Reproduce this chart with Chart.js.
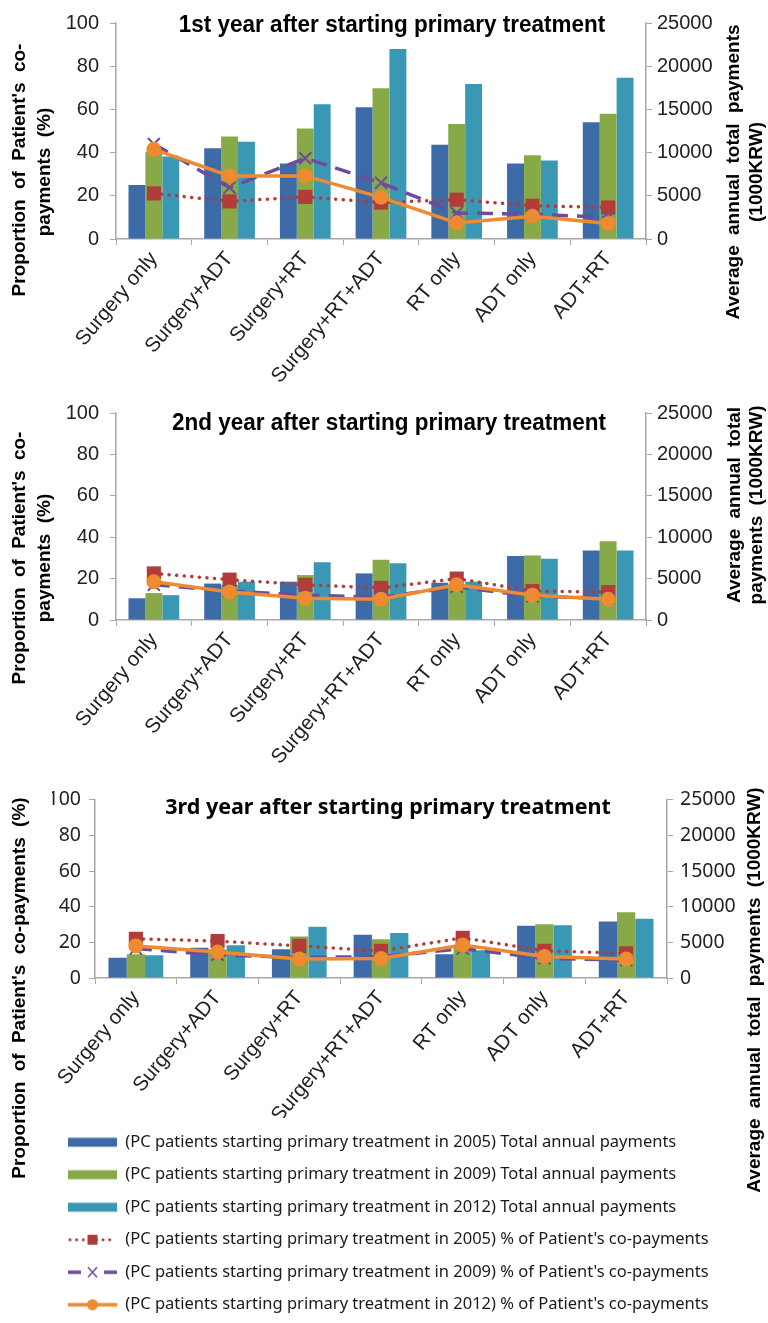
<!DOCTYPE html>
<html><head><meta charset="utf-8">
<script src="https://cdn.jsdelivr.net/npm/chart.js@4.4.1/dist/chart.umd.min.js"></script>
<style>
html,body{margin:0;padding:0;background:#fff;}
#wrap{position:relative;width:768px;height:1323px;overflow:hidden;background:#fff;}
.box{position:absolute;left:0;width:768px;}
</style></head><body>
<div id="wrap">
  <div class="box" style="top:0;height:390px"><canvas id="c1"></canvas></div>
  <div class="box" style="top:390px;height:390px"><canvas id="c2"></canvas></div>
  <div class="box" style="top:780px;height:543px"><canvas id="c3"></canvas></div>
</div>
<script>
// ---------- DATA ----------
const categories = ['Surgery only','Surgery+ADT','Surgery+RT','Surgery+RT+ADT','RT only','ADT only','ADT+RT'];
const seriesLabels = [
  '(PC patients starting primary treatment in 2005) Total annual payments',
  '(PC patients starting primary treatment in 2009) Total annual payments',
  '(PC patients starting primary treatment in 2012) Total annual payments',
  "(PC patients starting primary treatment in 2005) % of Patient's co-payments",
  "(PC patients starting primary treatment in 2009) % of Patient's co-payments",
  "(PC patients starting primary treatment in 2012) % of Patient's co-payments"
];
const panelTitles = ['1st year after starting primary treatment','2nd year after starting primary treatment','3rd year after starting primary treatment'];
const leftTitles = [["Proportion of Patient's co-","payments (%)"],["Proportion of Patient's co-","payments (%)"],["Proportion of Patient's co-payments (%)"]];
const rightTitles = [["Average annual total payments","(1000KRW)"],["Average annual total","payments (1000KRW)"],["Average annual total payments (1000KRW)"]];
const leftTicks = [0,20,40,60,80,100];
const rightTicks = [0,5000,10000,15000,20000,25000];

// Year 1
const pay2005_y1 = [6250, 10500, 8750, 15250, 10900, 8750, 13500];
const pay2009_y1 = [10100, 11850, 12800, 17450, 13300, 9700, 14500];
const pay2012_y1 = [9550, 11250, 15600, 22000, 17950, 9100, 18650];
const co2005_y1 = [21.1, 17.4, 19.5, 16.9, 18.2, 15.4, 14.6];
const co2009_y1 = [44, 23.8, 37.4, 26, 12, 11.5, 10];
const co2012_y1 = [41.5, 29.2, 29.2, 19.3, 7.4, 10.5, 7.2];
// Year 2
const pay2005_y2 = [2625, 4400, 4625, 5625, 4500, 7725, 8400];
const pay2009_y2 = [3250, 4250, 5425, 7275, 4250, 7800, 9500];
const pay2012_y2 = [3000, 4625, 6975, 6850, 4625, 7400, 8400];
const co2005_y2 = [22.5, 19.5, 17, 15.5, 20, 14, 13.5];
const co2009_y2 = [17, 14, 12, 11, 16, 11.5, 10.5];
const co2012_y2 = [18.5, 13.5, 10.5, 10, 17, 12, 10];
// Year 3
const pay2005_y3 = [2825, 4250, 4025, 6075, 3325, 7325, 7925];
const pay2009_y3 = [3325, 4000, 5825, 5425, 4250, 7550, 9225];
const pay2012_y3 = [3200, 4575, 7175, 6300, 3900, 7400, 8325];
const co2005_y3 = [22, 20.7, 18, 15.2, 22.5, 15.2, 13.9];
const co2009_y3 = [16.5, 13, 11.5, 12, 16.5, 11, 10];
const co2012_y3 = [18, 14.6, 10.6, 10.9, 18.5, 12, 10.6];

// ---------- STYLE ----------
const C_BLUE='#3D6BA7', C_GREEN='#88A947', C_TEAL='#3A98B4', C_RED='#B13C39', C_PURPLE='#6C4D9C', C_ORANGE='#EE8A30';
const ARIAL='"Liberation Sans", Arial, sans-serif';
const MALGUN='"Noto Sans", "Open Sans", sans-serif';
const AXIS_GRAY='#A8A8A8';

function makeSwatch(kind, color){
  const c=document.createElement('canvas'); c.width=49; c.height=16;
  const g=c.getContext('2d');
  if(kind==='bar'){ g.fillStyle=color; g.fillRect(0,3.5,49,9); }
  else if(kind==='dot'){
    g.strokeStyle=color; g.lineWidth=3; g.lineCap='round'; g.setLineDash([0.1,6.5]);
    g.beginPath(); g.moveTo(2,8); g.lineTo(48,8); g.stroke();
    g.setLineDash([]); g.fillStyle=color; g.fillRect(19.5,3,10,10);
  } else if(kind==='dash'){
    g.strokeStyle=color; g.lineWidth=3.5;
    g.beginPath(); g.moveTo(0,8); g.lineTo(13,8); g.moveTo(36,8); g.lineTo(49,8); g.stroke();
    g.lineWidth=1.6; g.beginPath(); g.moveTo(20,3); g.lineTo(29,13); g.moveTo(29,3); g.lineTo(20,13); g.stroke();
  } else {
    g.strokeStyle=color; g.lineWidth=3.5;
    g.beginPath(); g.moveTo(0,8); g.lineTo(49,8); g.stroke();
    g.fillStyle=color; g.beginPath(); g.arc(24.5,8,5.5,0,Math.PI*2); g.fill();
  }
  return c;
}

const deco = {
  id:'deco',
  afterDraw(chart, args, opts){
    const ctx=chart.ctx;
    (opts.texts||[]).forEach(t=>{
      ctx.save();
      ctx.font=t.font; ctx.fillStyle=t.color||'#000';
      ctx.textAlign='center'; ctx.textBaseline='middle';
      if('letterSpacing' in ctx) ctx.letterSpacing=t.ls||'0px';
      if('wordSpacing' in ctx) ctx.wordSpacing=t.ws||'0px';
      ctx.translate(t.x,t.y); ctx.rotate((t.rot||0)*Math.PI/180);
      ctx.scale(t.sx||1, t.sy||1);
      ctx.fillText(t.text,0,0);
      ctx.restore();
    });
  }
};

function buildDatasets(b1,b2,b3,l1,l2,l3){
  const bar=(label,data,color)=>({type:'bar',label,data,backgroundColor:color,borderWidth:0,yAxisID:'y2',order:4,categoryPercentage:0.67,barPercentage:1});
  return [
    bar(seriesLabels[0],b1,C_BLUE), bar(seriesLabels[1],b2,C_GREEN), bar(seriesLabels[2],b3,C_TEAL),
    {type:'line',label:seriesLabels[3],data:l1,yAxisID:'y',order:3,borderColor:C_RED,borderWidth:3.5,borderDash:[0.1,7.5],borderCapStyle:'round',
      pointStyle:'rect',pointRadius:10,pointBackgroundColor:C_RED,pointBorderColor:C_RED,pointBorderWidth:0,tension:0},
    {type:'line',label:seriesLabels[4],data:l2,yAxisID:'y',order:2,borderColor:C_PURPLE,borderWidth:3.5,borderDash:[16,9],
      pointStyle:'crossRot',pointRadius:8.5,pointBorderColor:C_PURPLE,pointBorderWidth:2,tension:0},
    {type:'line',label:seriesLabels[5],data:l3,yAxisID:'y',order:1,borderColor:C_ORANGE,borderWidth:3.5,
      pointStyle:'circle',pointRadius:7.5,pointBackgroundColor:C_ORANGE,pointBorderColor:C_ORANGE,pointBorderWidth:0,tension:0}
  ];
}

function makeChart(id, cfg){
  const tickFont = {family:cfg.tickFamily,size:cfg.tickSize};
  const swatches=[makeSwatch('bar',C_BLUE),makeSwatch('bar',C_GREEN),makeSwatch('bar',C_TEAL),makeSwatch('dot',C_RED),makeSwatch('dash',C_PURPLE),makeSwatch('solid',C_ORANGE)];
  return new Chart(document.getElementById(id),{
    type:'bar',
    data:{labels:categories,datasets:cfg.datasets},
    plugins:[deco],
    options:{
      responsive:true, maintainAspectRatio:false, animation:false, devicePixelRatio:1,
      layout:{padding:{top:cfg.padTop,left:cfg.padLeft||0,right:0,bottom:0}},
      plugins:{
        tooltip:{enabled:false},
        title:{display:false},
        legend: cfg.legend ? {
          display:true, position:'bottom', align:'start',
          labels:{usePointStyle:true, pointStyleWidth:49, padding:16, color:'#1a1a1a',
            font:{family:MALGUN,size:16.5},
            generateLabels: ch => ch.data.datasets.map((ds,i)=>({text:ds.label,pointStyle:swatches[i],fillStyle:'rgba(0,0,0,0)',strokeStyle:'rgba(0,0,0,0)',lineWidth:0,hidden:false,datasetIndex:i,fontColor:'#1a1a1a'}))
          }
        } : {display:false},
        deco:{texts:cfg.texts}
      },
      scales:{
        x:{
          grid:{drawOnChartArea:false,tickLength:6,color:AXIS_GRAY,offset:true},
          border:{color:AXIS_GRAY,width:1.5},
          ticks:{autoSkip:false,minRotation:50,maxRotation:50,padding:2,color:'#222',font:{family:ARIAL,size:20.5}},
          afterFit:s=>{ const L=(s.chart.legend&&cfg.legend)?s.chart.legend.height:0; s.height=cfg.xh - L; }
        },
        y:{
          position:'left',min:0,max:100,
          afterBuildTicks:s=>{s.ticks=leftTicks.map(v=>({value:v}));},
          grid:{drawOnChartArea:false,tickLength:6,color:AXIS_GRAY},
          border:{color:AXIS_GRAY,width:1.5},
          ticks:{padding:cfg.lpad,color:'#222',font:tickFont,callback:v=>String(v)},
          afterFit:s=>{s.width=cfg.lw;}
        },
        y2:{
          position:'right',min:0,max:25000,
          afterBuildTicks:s=>{s.ticks=rightTicks.map(v=>({value:v}));},
          grid:{drawOnChartArea:false,tickLength:6,color:AXIS_GRAY},
          border:{color:AXIS_GRAY,width:1.5},
          ticks:{padding:cfg.rpad,color:'#222',font:tickFont,callback:v=>String(v)},
          afterFit:s=>{s.width=cfg.rw;}
        }
      }
    }
  });
}

const AXT='bold 19px '+ARIAL;
const WS='5px';
// Panel 1
makeChart('c1',{
  datasets:buildDatasets(pay2005_y1,pay2009_y1,pay2012_y1,co2005_y1,co2009_y1,co2012_y1),
  padTop:19, xh:390-239, lw:116, rw:768-646, lpad:11, rpad:5,
  tickFamily:ARIAL, tickSize:20,
  texts:[
    {text:panelTitles[0],x:392,y:25,font:'bold 22.5px '+ARIAL,sy:1.1},
    {text:leftTitles[0][0],x:20,y:170,rot:-90,font:AXT,ws:WS},
    {text:leftTitles[0][1],x:45,y:172,rot:-90,font:AXT,ws:WS},
    {text:rightTitles[0][0],x:734,y:172,rot:-90,font:AXT,ws:WS},
    {text:rightTitles[0][1],x:757,y:172,rot:-90,font:AXT,ws:WS}
  ]
});
// Panel 2
makeChart('c2',{
  datasets:buildDatasets(pay2005_y2,pay2009_y2,pay2012_y2,co2005_y2,co2009_y2,co2012_y2),
  padTop:23, xh:390-230, lw:116, rw:768-646, lpad:11, rpad:5,
  tickFamily:ARIAL, tickSize:20,
  texts:[
    {text:panelTitles[1],x:389,y:33,font:'bold 22.5px '+ARIAL,sy:1.1},
    {text:leftTitles[1][0],x:20,y:168,rot:-90,font:AXT,ws:WS},
    {text:leftTitles[1][1],x:45,y:168,rot:-90,font:AXT,ws:WS},
    {text:rightTitles[1][0],x:735,y:115,rot:-90,font:AXT,ws:WS},
    {text:rightTitles[1][1],x:757,y:115,rot:-90,font:AXT,ws:WS}
  ]
});
// Panel 3 (with legend)
makeChart('c3',{
  datasets:buildDatasets(pay2005_y3,pay2009_y3,pay2012_y3,co2005_y3,co2009_y3,co2012_y3),
  padTop:12, padLeft:52, xh:543-198, lw:95-52, rw:768-667, lpad:8, rpad:7, legend:true,
  tickFamily:MALGUN, tickSize:19.5,
  texts:[
    {text:panelTitles[2],x:388,y:28,font:'bold 21.5px '+MALGUN},
    {text:leftTitles[2][0],x:20,y:208,rot:-90,font:AXT,ws:WS},
    {text:rightTitles[2][0],x:755,y:210,rot:-90,font:AXT,ws:WS}
  ]
});
</script>
</body></html>
